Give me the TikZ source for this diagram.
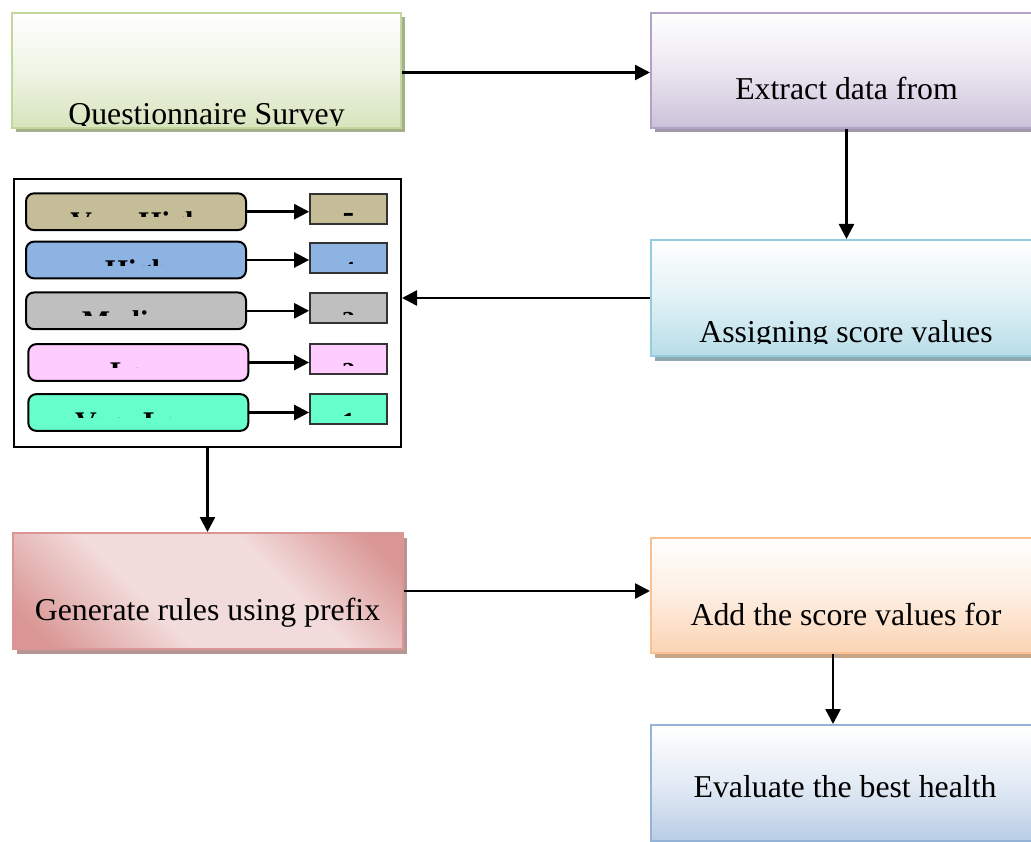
\documentclass[tikz,border=0pt]{standalone}
\usepackage{fontspec}
\setmainfont{Liberation Serif}
\usetikzlibrary{arrows.meta,shadows}

% step boxes: border, lower fill, drop shadow
\definecolor{qborder}{HTML}{C3D69B}
\definecolor{qfill}{HTML}{D7E4BD}
\definecolor{qshadow}{HTML}{A5AF8C}
\definecolor{eborder}{HTML}{B3A2C7}
\definecolor{efill}{HTML}{CCC1DA}
\definecolor{eshadow}{HTML}{9F98A9}
\definecolor{aborder}{HTML}{93CDDD}
\definecolor{afill}{HTML}{B7DDE8}
\definecolor{ashadow}{HTML}{8EA8B0}
\definecolor{dborder}{HTML}{FAC090}
\definecolor{dfill}{HTML}{FBD4B4}
\definecolor{dshadow}{HTML}{C8A587}
\definecolor{vborder}{HTML}{95B3D7}
\definecolor{vfill}{HTML}{B9CDE5}
\definecolor{rosedark}{HTML}{D99694}
\definecolor{roselight}{HTML}{F2DCDB}
\definecolor{gshadow}{HTML}{B89595}
% level colours
\definecolor{lvA}{HTML}{C4BD97}
\definecolor{lvB}{HTML}{8DB3E2}
\definecolor{lvC}{HTML}{BFBFBF}
\definecolor{lvD}{HTML}{FFCCFF}
\definecolor{lvE}{HTML}{66FFCC}

\pgfdeclarehorizontalshading[rosedark,roselight]{rosebands}{100bp}{%
  color(0bp)=(rosedark); color(20bp)=(rosedark); color(40bp)=(roselight);
  color(62bp)=(roselight); color(80bp)=(rosedark); color(100bp)=(rosedark)}

\begin{document}
\begin{tikzpicture}[x=1pt,y=-1pt,
  stepbox/.style={line width=2pt, inner sep=0pt, minimum width=391pt, minimum height=116pt},
  tinted/.style={draw=#1border, top color=white, bottom color=#1fill, middle color=#1fill!40!white},
  shadowed/.style={general shadow={fill=#1, shadow xshift=3.5pt, shadow yshift=-4.5pt}},
  txt/.style={font=\fontsize{31.8}{36}\selectfont, inner sep=0pt, anchor=base},
  lvtxt/.style={font=\bfseries\fontsize{30}{34}\selectfont, inner sep=0pt, anchor=base},
  sctxt/.style={font=\bfseries\fontsize{26}{30}\selectfont, inner sep=0pt, anchor=base},
  lvbox/.style={draw=black, line width=2pt, rounded corners=8pt, fill=#1,
    minimum width=220pt, minimum height=36.7pt, inner sep=0pt},
  scorebox/.style={draw=black!80, line width=2pt, fill=#1,
    minimum width=76.7pt, minimum height=30pt, inner sep=0pt},
  arr/.style={line width=2.5pt, -{Triangle[length=15pt,width=15pt]}}]

\useasboundingbox (0,0) rectangle (1031,842);

% main steps
\node[stepbox, minimum width=389pt, minimum height=115pt, tinted=q, shadowed=qshadow] (survey) at (206.5,70.5) {};
\node[stepbox, minimum height=115pt, tinted=e, shadowed=eshadow] (extract) at (846.5,70.5) {};
\node[stepbox, tinted=a, shadowed=ashadow] (assign) at (846.5,298) {};
\node[stepbox, minimum width=390pt, draw=rosedark, shading=rosebands, shading angle=45, shadowed=gshadow] (rules) at (208,591) {};
\node[stepbox, minimum height=115.5pt, tinted=d, shadowed=dshadow] (add) at (846.5,595.25) {};
\node[stepbox, tinted=v] (best) at (846.5,783) {};

% step texts
\begin{scope}
  \clip (12,13) rectangle (401,125.5);
  \node[txt] (surveytext) at (206.5,124.5) {Questionnaire Survey};
\end{scope}
\node[txt] (extracttext) at (846.5,100) {Extract data from};
\begin{scope}
  \clip (651,240) rectangle (1042,344);
  \node[txt] (assigntext) at (846,343) {Assigning score values};
\end{scope}
\node[txt] (rulestext) at (207.5,620) {Generate rules using prefix};
\node[txt] (addtext) at (846,625) {Add the score values for};
\node[txt] (besttext) at (845,797) {Evaluate the best health};

% score table
\node[draw=black, line width=2pt, minimum width=387pt, minimum height=267.5pt, inner sep=0pt] (levels) at (207.5,313.25) {};

\node[lvbox=lvA] (lv1) at (136,211.7) {};
\node[lvbox=lvB] (lv2) at (136,260) {};
\node[lvbox=lvC] (lv3) at (136,310.8) {};
\node[lvbox=lvD] (lv4) at (138.3,362.5) {};
\node[lvbox=lvE] (lv5) at (138.3,412.5) {};

\node[scorebox=lvA] (sc1) at (348.5,209.3) {};
\node[scorebox=lvB] (sc2) at (348.5,257.7) {};
\node[scorebox=lvC] (sc3) at (348.5,308.3) {};
\node[scorebox=lvD] (sc4) at (348.5,359) {};
\node[scorebox=lvE] (sc5) at (348.5,409) {};

% level names and scores, cut off inside their boxes
\foreach \k/\name/\score/\top/\stop/\cx in {
    1/Very High/5/193.3/194.3/136,
    2/High/4/241.7/242.7/136.5,
    3/Medium/3/292.3/293.3/136,
    4/Low/2/344/344/138.3,
    5/Very Low/1/394/394/137.5}{
  \begin{scope}
    \clip (20,\top) rectangle (255,\top+23.5);
    \node[lvtxt] (lvname\k) at (\cx,\top+38.8) {\name};
  \end{scope}
  \begin{scope}
    \clip (311,\stop) rectangle (386,\stop+21);
    \node[sctxt] (lvscore\k) at (348.5,\stop+36.4) {\score};
  \end{scope}
}

\foreach \k in {1,...,5}{
  \draw[arr] (lv\k.east) -- (lv\k.east -| sc\k.west);
}

% flow
\coordinate (row1) at (0,72.5);
\coordinate (col6) at (833,0);
\draw[arr] (survey.east |- row1) -- (extract.west |- row1);
\draw[arr] (extract.south) -- (assign.north);
\draw[arr] (assign.west) -- (assign.west -| levels.east);
\draw[arr] (levels.south) -- (levels.south |- rules.north);
\draw[arr] (rules.east) -- (rules.east -| add.west);
\draw[arr] (add.south -| col6) -- (best.north -| col6);

\end{tikzpicture}
\end{document}
